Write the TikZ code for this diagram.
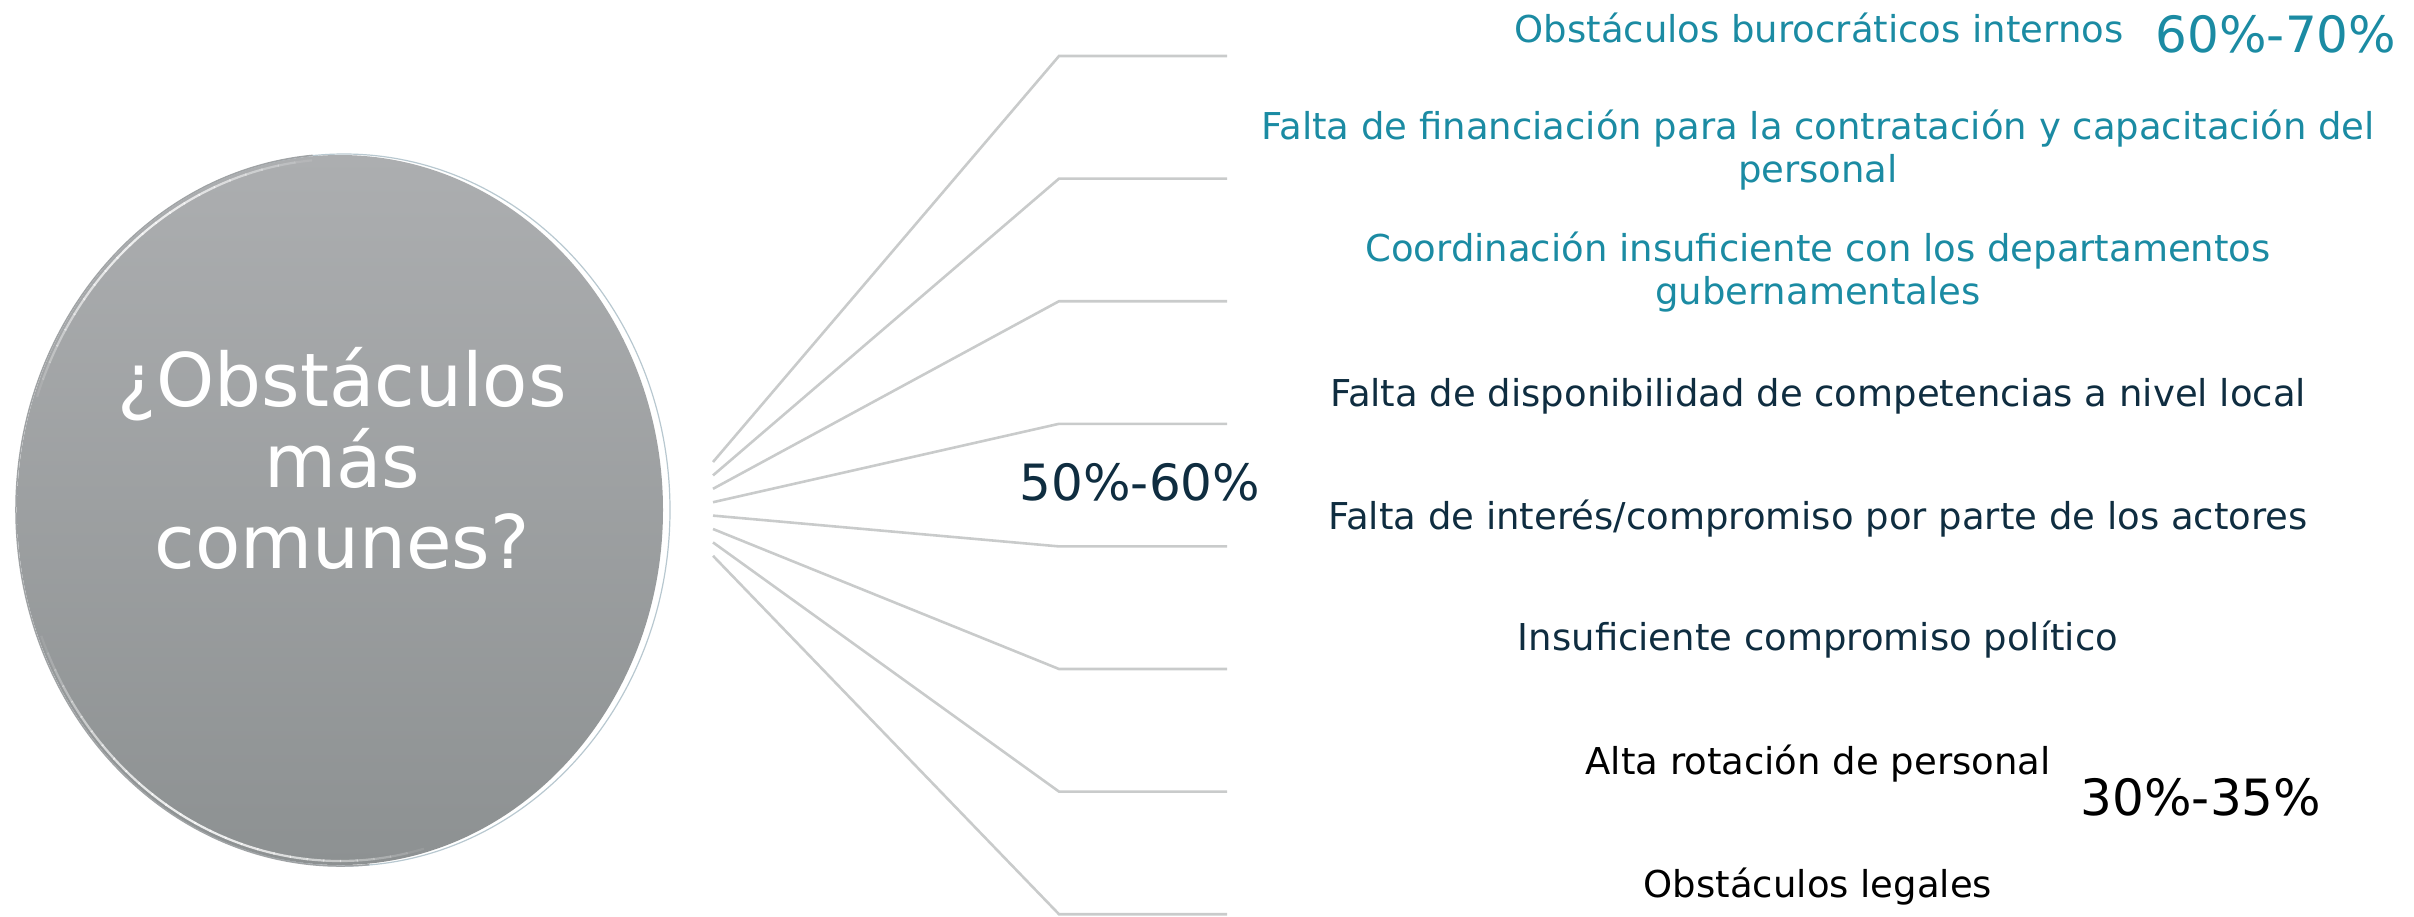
\documentclass[tikz,border=0pt]{standalone}
\usepackage{fontspec}
\setmainfont{DejaVu Sans}
\usetikzlibrary{shapes.geometric}
\definecolor{tealc}{HTML}{1B8BA3}
\definecolor{navyc}{HTML}{0F2D40}
\definecolor{linec}{HTML}{C9CBCB}
\definecolor{discTop}{HTML}{ACAEB0}
\definecolor{discBot}{HTML}{8D9192}
\definecolor{rimc}{HTML}{B8C8D0}
\definecolor{rimleft}{HTML}{A0A3A5}
\begin{document}
\begin{tikzpicture}[x=1pt,y=-1pt,
  item/.style={font=\fontsize{37}{43}\selectfont, align=center, inner sep=0pt},
  pct/.style={font=\fontsize{50}{58}\selectfont, inner sep=0pt},
  leader/.style={draw=linec, line width=2.6pt},
  disctext/.style={font=\fontsize{74}{81}\selectfont, text=white, align=center, inner sep=0pt}]
\useasboundingbox (0,0) rectangle (2414,916);
% disc
\draw[rimc, line width=1.2pt] (344,510) ellipse (326pt and 356pt);
\draw[rimleft, line width=1.5pt] (341,510) ++(95:325pt and 356pt) arc[start angle=95, end angle=275, x radius=325pt, y radius=356pt];
\shade[top color=discTop, bottom color=discBot] (340,510) ellipse (323pt and 355pt);
\foreach \a in {92,95,...,158}{
  \pgfmathsetmacro{\op}{0.8*sin((\a-92)/69*180)}
  \draw[white, opacity=\op, line width=2.2pt] (340,510) ++(\a:320pt and 351pt) arc[start angle=\a, end angle=\a+3.2, x radius=320pt, y radius=351pt];
}
\foreach \a in {198,201,...,282}{
  \pgfmathsetmacro{\op}{0.85*sin((\a-198)/87*180)}
  \draw[white, opacity=\op, line width=2.2pt] (340,510) ++(\a:320pt and 351pt) arc[start angle=\a, end angle=\a+3.2, x radius=320pt, y radius=351pt];
}
\node[disctext] (q) at (342,458) {¿Obstáculos\\más\\comunes?};
% leader lines
\foreach \i in {1,...,8}{
  \coordinate (s\i) at (713,{462+13.4*(\i-1)});
  \coordinate (b\i) at (1059,{56+122.6*(\i-1)});
  \coordinate (e\i) at (1227,{56+122.6*(\i-1)});
  \draw[leader] (s\i) -- (b\i) -- (e\i);
}
% items
\node[item, text=tealc] (t1) at (1819,28) {Obstáculos burocráticos internos};
\node[item, text=tealc] (t2) at (1818,150) {Falta de financiación para la contratación y capacitación del\\personal};
\node[item, text=tealc] (t3) at (1818,272) {Coordinación insuficiente con los departamentos\\gubernamentales};
\node[item, text=navyc] (t4) at (1818,396) {Falta de disponibilidad de competencias a nivel local};
\node[item, text=navyc] (t5) at (1818,519) {Falta de interés/compromiso por parte de los actores};
\node[item, text=navyc] (t6) at (1818,640) {Insuficiente compromiso político};
\node[item, text=black] (t7) at (1818,764) {Alta rotación de personal};
\node[item, text=black] (t8) at (1818,887) {Obstáculos legales};
% percentages
\node[pct, text=tealc] (p1) at (2276,34) {60\%-70\%};
\node[pct, text=navyc] (p2) at (1140,482) {50\%-60\%};
\node[pct, text=black] (p3) at (2201,797) {30\%-35\%};
\end{tikzpicture}
\end{document}
